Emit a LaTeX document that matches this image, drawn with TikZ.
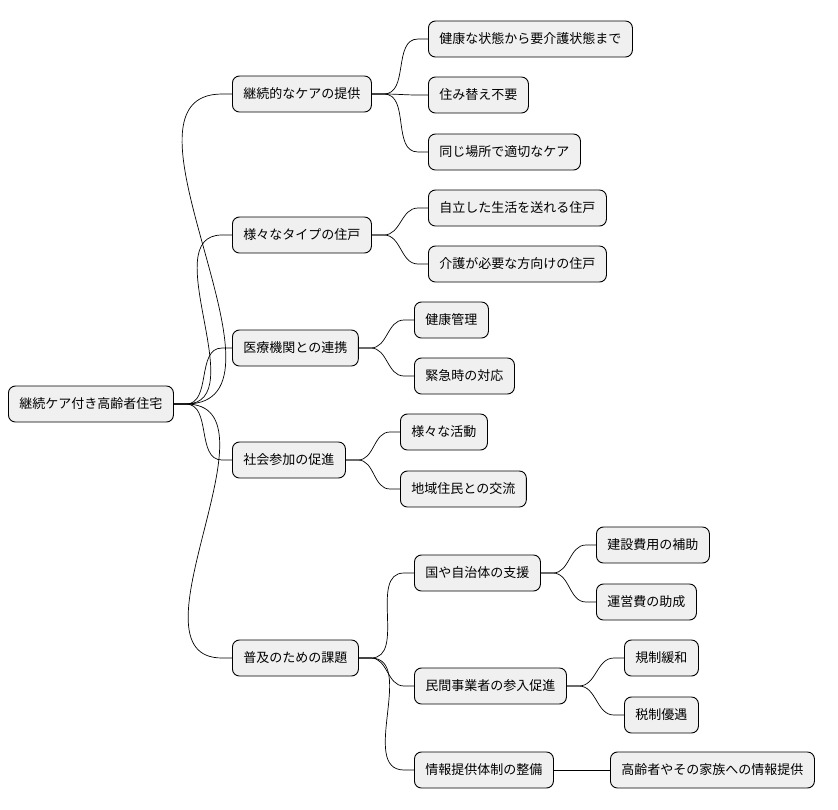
\documentclass[tikz,border=0pt]{standalone}
\usepackage{fontspec}
\setmainfont{Noto Sans CJK JP}
\begin{document}
\begin{tikzpicture}[x=1pt,y=-1pt,
  box/.style={draw=black,line width=0.9pt,rounded corners=7pt,fill=gray!12,
    anchor=west,minimum height=36pt,inner xsep=11pt,font=\fontsize{13pt}{15pt}\selectfont},
  conn/.style={line width=0.7pt}]
\useasboundingbox (0,0) rectangle (838,809);
\newcommand{\lnk}[2]{\draw[conn] (#1.east) -- ++(12,0) to[out=0,in=180] ([xshift=-10pt]#2.west) -- (#2.west);}
\node[box] (r) at (8,404) {継続ケア付き高齢者住宅};
\node[box] (a) at (232,94) {継続的なケアの提供};
\node[box] (b) at (232,235) {様々なタイプの住戸};
\node[box] (c) at (232,348) {医療機関との連携};
\node[box] (d) at (232,460) {社会参加の促進};
\node[box] (e) at (232,658) {普及のための課題};
\node[box] (a1) at (428,39) {健康な状態から要介護状態まで};
\node[box] (a2) at (428,95) {住み替え不要};
\node[box] (a3) at (428,152) {同じ場所で適切なケア};
\node[box] (b1) at (428,208) {自立した生活を送れる住戸};
\node[box] (b2) at (428,264) {介護が必要な方向けの住戸};
\node[box] (c1) at (414,320) {健康管理};
\node[box] (c2) at (414,376) {緊急時の対応};
\node[box] (d1) at (400,432) {様々な活動};
\node[box] (d2) at (400,489) {地域住民との交流};
\node[box] (e1) at (414,573) {国や自治体の支援};
\node[box] (e2) at (414,686) {民間事業者の参入促進};
\node[box] (e3) at (414,770) {情報提供体制の整備};
\node[box] (f1) at (596,545) {建設費用の補助};
\node[box] (f2) at (596,602) {運営費の助成};
\node[box] (g1) at (624,658) {規制緩和};
\node[box] (g2) at (624,715) {税制優遇};
\node[box] (h1) at (610,770) {高齢者やその家族への情報提供};
\foreach \c in {a,b,c,d,e} {\lnk{r}{\c}}
\foreach \c in {a1,a2,a3} {\lnk{a}{\c}}
\foreach \c in {b1,b2} {\lnk{b}{\c}}
\foreach \c in {c1,c2} {\lnk{c}{\c}}
\foreach \c in {d1,d2} {\lnk{d}{\c}}
\foreach \c in {e1,e2,e3} {\lnk{e}{\c}}
\foreach \c in {f1,f2} {\lnk{e1}{\c}}
\foreach \c in {g1,g2} {\lnk{e2}{\c}}
\lnk{e3}{h1}
\end{tikzpicture}
\end{document}
